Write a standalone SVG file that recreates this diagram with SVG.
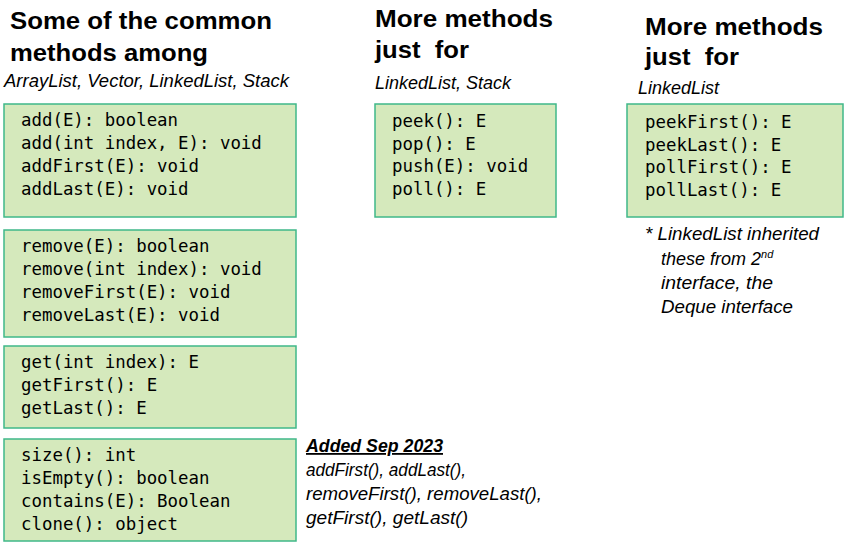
<svg xmlns="http://www.w3.org/2000/svg" width="846" height="547" viewBox="0 0 846 547">
<style>
.box{fill:#d5e9bc;stroke:#3fb889;stroke-width:1.5}
.h{font-family:"Liberation Sans",Arial,sans-serif;font-weight:bold;font-size:23px;fill:#000}
.it{font-family:"Liberation Sans",Arial,sans-serif;font-style:italic;font-size:18px;fill:#000}
.m{font-family:"DejaVu Sans Mono","Liberation Mono",monospace;font-size:17.4px;fill:#000}
</style>
<rect width="846" height="547" fill="#fff"/>
<g id="heading-common">
<text class="h" x="10" y="29" textLength="262" lengthAdjust="spacingAndGlyphs">Some of the common</text>
<text class="h" x="10" y="61" textLength="198" lengthAdjust="spacingAndGlyphs">methods among</text>
<text class="it" x="4" y="87" textLength="285" lengthAdjust="spacingAndGlyphs">ArrayList, Vector, LinkedList, Stack</text>
</g>
<g id="heading-ll-stack">
<text class="h" x="375" y="27" textLength="178" lengthAdjust="spacingAndGlyphs">More methods</text>
<text class="h" x="375" y="58" textLength="94" lengthAdjust="spacingAndGlyphs">just&#160; for</text>
<text class="it" x="375" y="89" textLength="136" lengthAdjust="spacingAndGlyphs">LinkedList, Stack</text>
</g>
<g id="heading-ll">
<text class="h" x="645" y="35" textLength="178" lengthAdjust="spacingAndGlyphs">More methods</text>
<text class="h" x="645" y="65" textLength="94" lengthAdjust="spacingAndGlyphs">just&#160; for</text>
<text class="it" x="638" y="94" textLength="81" lengthAdjust="spacingAndGlyphs">LinkedList</text>
</g>
<g id="box-add">
<rect class="box" x="4" y="104" width="292" height="113"/>
<text class="m" x="21" y="126">add(E): boolean</text>
<text class="m" x="21" y="149">add(int index, E): void</text>
<text class="m" x="21" y="172">addFirst(E): void</text>
<text class="m" x="21" y="195">addLast(E): void</text>
</g>
<g id="box-remove">
<rect class="box" x="4" y="230" width="292" height="107"/>
<text class="m" x="21" y="252">remove(E): boolean</text>
<text class="m" x="21" y="275">remove(int index): void</text>
<text class="m" x="21" y="298">removeFirst(E): void</text>
<text class="m" x="21" y="321">removeLast(E): void</text>
</g>
<g id="box-get">
<rect class="box" x="4" y="346" width="292" height="82"/>
<text class="m" x="21" y="368">get(int index): E</text>
<text class="m" x="21" y="391">getFirst(): E</text>
<text class="m" x="21" y="414">getLast(): E</text>
</g>
<g id="box-misc">
<rect class="box" x="4" y="439" width="292" height="102"/>
<text class="m" x="21" y="461">size(): int</text>
<text class="m" x="21" y="484">isEmpty(): boolean</text>
<text class="m" x="21" y="507">contains(E): Boolean</text>
<text class="m" x="21" y="530">clone(): object</text>
</g>
<g id="box-stack">
<rect class="box" x="375" y="104" width="181" height="113"/>
<text class="m" x="392" y="127">peek(): E</text>
<text class="m" x="392" y="150">pop(): E</text>
<text class="m" x="392" y="172">push(E): void</text>
<text class="m" x="392" y="195">poll(): E</text>
</g>
<g id="box-deque">
<rect class="box" x="627" y="104" width="216" height="113"/>
<text class="m" x="645" y="128">peekFirst(): E</text>
<text class="m" x="645" y="151">peekLast(): E</text>
<text class="m" x="645" y="173">pollFirst(): E</text>
<text class="m" x="645" y="196">pollLast(): E</text>
</g>
<g id="note-deque">
<text class="it" x="645" y="240" textLength="174" lengthAdjust="spacingAndGlyphs">* LinkedList inherited</text>
<text class="it" x="661" y="265">these from 2<tspan font-size="11" dy="-7">nd</tspan></text>
<text class="it" x="661" y="289" textLength="112" lengthAdjust="spacingAndGlyphs">interface, the</text>
<text class="it" x="661" y="313" textLength="132" lengthAdjust="spacingAndGlyphs">Deque interface</text>
</g>
<g id="note-added">
<text class="it" x="306" y="452" font-weight="bold" text-decoration="underline" textLength="137" lengthAdjust="spacingAndGlyphs">Added Sep 2023</text>
<text class="it" x="306" y="476" textLength="160" lengthAdjust="spacingAndGlyphs">addFirst(), addLast(),</text>
<text class="it" x="306" y="500" textLength="236" lengthAdjust="spacingAndGlyphs">removeFirst(), removeLast(),</text>
<text class="it" x="306" y="524" textLength="162" lengthAdjust="spacingAndGlyphs">getFirst(), getLast()</text>
</g>
<g id="connectors"></g>
</svg>
